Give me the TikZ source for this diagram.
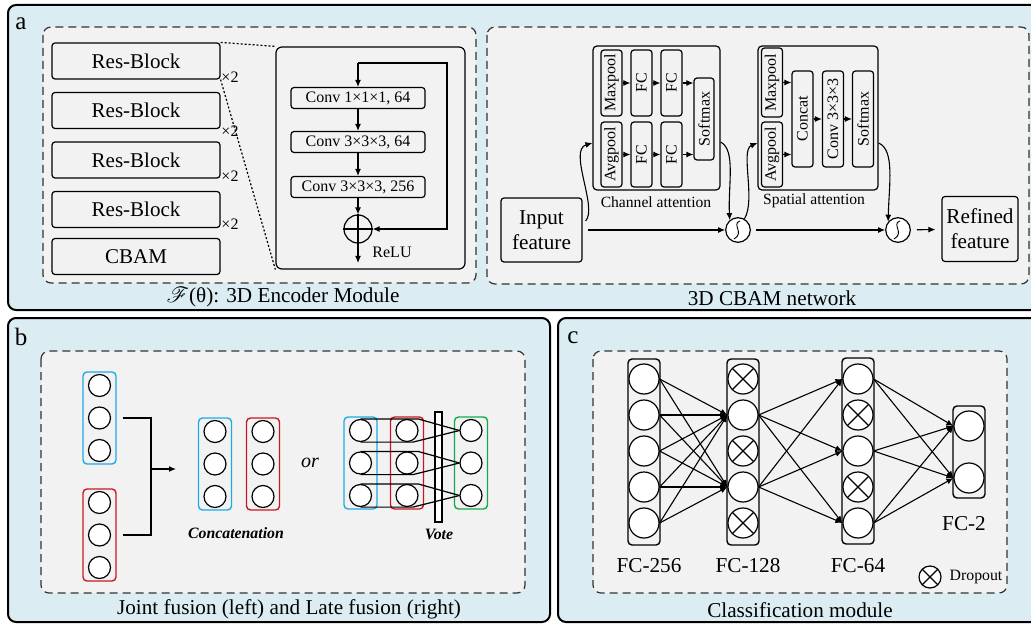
\documentclass[tikz,border=0pt]{standalone}
\usepackage{fontspec}
\setmainfont{Liberation Serif}
\usepackage{mathrsfs}
\usetikzlibrary{arrows.meta, positioning, calc}

\definecolor{panelblue}{RGB}{219,237,243}
\definecolor{boxgray}{RGB}{242,242,242}
\definecolor{netblue}{RGB}{30,170,230}
\definecolor{netred}{RGB}{200,25,35}
\definecolor{netgreen}{RGB}{20,170,75}

\tikzset{
  panel/.style={draw=black, line width=1pt, rounded corners=4pt, fill=panelblue},
  dashbox/.style={draw=black!80, line width=0.6pt, dash pattern=on 4pt off 2.5pt, rounded corners=4pt, fill=boxgray},
  blk/.style={draw, line width=0.6pt, rounded corners=1.5pt, inner sep=0pt},
  vtxt/.style={blk, minimum width=10.5pt, font=\fontsize{8}{9}\selectfont},
  colbox/.style={draw, line width=0.7pt, rounded corners=2pt, inner sep=0pt, minimum width=16.5pt, minimum height=46pt},
  neuron/.style={circle, draw, line width=0.6pt, fill=white, inner sep=0pt, minimum size=11pt},
  drop/.style={neuron, path picture={\draw[line width=0.6pt]
      (path picture bounding box.north west) -- (path picture bounding box.south east)
      (path picture bounding box.north east) -- (path picture bounding box.south west);}},
  arr/.style={-{Latex[length=3.5pt,width=3pt]}, line width=0.55pt},
  letter/.style={font=\fontsize{12.5}{14}\selectfont},
  small/.style={font=\fontsize{8}{9}\selectfont},
}

\begin{document}
\begin{tikzpicture}[x=0.5pt, y=-0.5pt, font=\fontsize{10.6}{12.5}\selectfont]
  \useasboundingbox (0,0) rectangle (1031,625);
  \clip (0,0) rectangle (1031,625);

  % panel a: encoder and CBAM
  \draw[panel] (8,5) rectangle (1045,310);
  \node[letter] (la) at (21,24) {a};
  \draw[dashbox] (43,27) rectangle (476,283);
  \draw[dashbox] (487,27) rectangle (1029,284);

  \foreach \i/\y in {1/61,2/110.5,3/160,4/209.5} {
    \node[blk, minimum width=84pt, minimum height=18pt, font=\fontsize{10.5}{12}\selectfont] (rb\i) at (136,\y) {Res-Block};
  }
  \node[blk, minimum width=84pt, minimum height=18pt, font=\fontsize{10.5}{12}\selectfont] (cbam) at (136,256.5) {CBAM};
  \foreach \i/\y in {1/77,2/131,3/176,4/224} {
    \node[small] (rep\i) at (230,\y) {×2};
  }

  \node[blk, rounded corners=3pt, minimum width=94.5pt, minimum height=111pt] (detail) at (370.5,158) {};
  \draw[line width=0.6pt, dash pattern=on 1pt off 1pt] (rb1.north east) -- (detail.north west);
  \draw[line width=0.6pt, dash pattern=on 1pt off 1pt] (rb1.south east) -- (detail.south west);

  \node[blk, minimum width=67pt, minimum height=10.5pt, small] (cv1) at (358,98) {Conv 1×1×1, 64};
  \node[blk, minimum width=67pt, minimum height=10.5pt, small] (cv2) at (358,142) {Conv 3×3×3, 64};
  \node[blk, minimum width=67pt, minimum height=10.5pt, small] (cv3) at (358,187) {Conv 3×3×3, 256};
  \node[neuron, fill=none, minimum size=14pt] (add) at (358,229) {};
  \draw[line width=0.6pt] (add.north) -- (add.south) (add.west) -- (add.east);
  \coordinate (skipin) at (358,63);
  \coordinate (skipr) at (447,63);
  \coordinate (resout) at (358,263);
  \draw[arr] (skipin) -- (cv1);
  \draw[arr] (skipin) -- (skipr) |- (add);
  \draw[arr] (cv1) -- (cv2);
  \draw[arr] (cv2) -- (cv3);
  \draw[arr] (cv3) -- (add);
  \draw[arr] (add) -- (resout);
  \node[small] (relu) at (392,252) {ReLU};
  \node (capa) at (283,297) {$\mathscr{F}$(θ): 3D Encoder Module};

  \node[blk, minimum width=40.5pt, minimum height=32pt, align=center] (input) at (541.5,230) {Input\\feature};
  \node[blk, minimum width=38pt, minimum height=32.5pt, align=center] (refined) at (980,229) {Refined\\feature};

  \node[blk, rounded corners=2pt, minimum width=63.5pt, minimum height=72pt] (chbox) at (656.5,118) {};
  \node[vtxt, minimum height=33pt] (cmax) at (611.5,83) {\rotatebox{90}{Maxpool}};
  \node[vtxt, minimum height=32.5pt] (cavg) at (611.5,154.5) {\rotatebox{90}{Avgpool}};
  \node[vtxt, minimum height=33pt] (cfc1) at (641.5,83) {\rotatebox{90}{FC}};
  \node[vtxt, minimum height=33pt] (cfc2) at (671.5,83) {\rotatebox{90}{FC}};
  \node[vtxt, minimum height=32.5pt] (cfc3) at (641.5,154.5) {\rotatebox{90}{FC}};
  \node[vtxt, minimum height=32.5pt] (cfc4) at (671.5,154.5) {\rotatebox{90}{FC}};
  \node[vtxt, minimum width=10pt, minimum height=41pt] (csoft) at (704,119) {\rotatebox{90}{Softmax}};
  \draw[arr] (cmax) -- (cfc1);
  \draw[arr] (cfc1) -- (cfc2);
  \draw[arr] (cfc2) -- (cfc2 -| csoft.west);
  \draw[arr] (cavg) -- (cfc3);
  \draw[arr] (cfc3) -- (cfc4);
  \draw[arr] (cfc4) -- (cfc4 -| csoft.west);
  \node[font=\fontsize{7.8}{9}\selectfont] (chlbl) at (656,202) {Channel attention};

  \node[blk, rounded corners=2pt, minimum width=60pt, minimum height=72pt] (spbox) at (818,118) {};
  \node[vtxt, minimum height=34.5pt] (smax) at (772,82.5) {\rotatebox{90}{Maxpool}};
  \node[vtxt, minimum height=32.5pt] (savg) at (772,154.5) {\rotatebox{90}{Avgpool}};
  \node[vtxt, minimum height=48pt] (scat) at (802.5,119) {\rotatebox{90}{Concat}};
  \node[vtxt, minimum height=48pt] (sconv) at (833,119) {\rotatebox{90}{Conv 3×3×3}};
  \node[vtxt, minimum height=48pt] (ssoft) at (863,119) {\rotatebox{90}{Softmax}};
  \draw[arr] (smax) -- (smax -| scat.west);
  \draw[arr] (savg) -- (savg -| scat.west);
  \draw[arr] (scat) -- (sconv);
  \draw[arr] (sconv) -- (ssoft);
  \node[font=\fontsize{7.8}{9}\selectfont] (splbl) at (814,201) {Spatial attention};

  \node[neuron, minimum size=12.3pt] (m1) at (738,230) {};
  \node[neuron, minimum size=12.3pt] (m2) at (898,230) {};
  \foreach \m in {m1,m2} {
    \draw[line width=0.45pt, shift={(\m)}] (2,-9) .. controls (-7,-6) and (7,3) .. (-4,9);
  }
  \draw[arr, shorten <=2.5pt] (input) -- (m1);
  \draw[arr, shorten <=2.5pt] (m1) -- (m2);
  \draw[arr, shorten <=3pt, shorten >=3pt] (m2) -- (refined);
  \draw[arr] ([shift={(3,-9)}]input.east) .. controls (598,208) and (568,150) .. ([shift={(0,25)}]chbox.west);
  \draw[arr] ([shift={(0,24)}]chbox.east) .. controls (736,150) and (728,185) .. (m1.130);
  \draw[arr] (m1.60) .. controls (756,200) and (740,150) .. ([shift={(0,25)}]spbox.west);
  \draw[arr] ([shift={(0,25)}]spbox.east) .. controls (895,150) and (889,185) .. (m2.140);
  \node (capcbam) at (772,298) {3D CBAM network};

  % panel b: fusion
  \draw[panel] (8,318) rectangle (550,622);
  \node[letter] (lb) at (21,337) {b};
  \draw[dashbox] (41,351) rectangle (525,593);
  \foreach \n/\x/\y/\c in {jb/99.5/418/netblue, jr/99.5/535/netred, cb/215/464/netblue, cr/263/464/netred,
                           fb/360.5/463/netblue, fr/407/463/netred, fg/471/463/netgreen} {
    \node[colbox, draw=\c] (\n) at (\x,\y) {};
    \node[neuron] (\n1) at (\x,\y-32.5) {};
    \node[neuron] (\n2) at (\x,\y) {};
    \node[neuron] (\n3) at (\x,\y+32.5) {};
  }
  \coordinate (jmid) at (151,469);
  \coordinate (jtip) at (176,469);
  \draw[line width=0.6pt] ([xshift=3pt]jb.east) -| (jmid);
  \draw[line width=0.6pt] ([xshift=3pt]jr.east) -| (jmid);
  \draw[arr] (jmid) -- (jtip);
  \node[font=\bfseries\itshape\fontsize{7.9}{9}\selectfont] (concatlbl) at (236,533) {Concatenation};
  \node[font=\itshape\fontsize{10}{12}\selectfont] (orlbl) at (310,463) {or};

  \node[draw, fill=white, line width=0.6pt, inner sep=0pt, minimum width=3.5pt, minimum height=55pt] (vote) at (438.5,467) {};
  \foreach \k in {1,2,3} {
    \draw[line width=0.6pt] (fb\k.north) -- ([xshift=5.5pt]fr\k.north) -- (fg\k.west);
    \draw[line width=0.6pt] (fb\k.south) -- ([xshift=3pt]fr\k.south) -- (fg\k.west);
  }
  \node[font=\bfseries\itshape\fontsize{7.9}{9}\selectfont] (votelbl) at (439,534) {Vote};
  \node (capb) at (289,609) {Joint fusion (left) and Late fusion (right)};

  % panel c: classifier
  \draw[panel] (558,318) rectangle (1045,622);
  \node[letter] (lc) at (573,338) {c};
  \draw[dashbox] (593,351) rectangle (1007,593);
  \node[colbox, minimum width=16pt, minimum height=93pt] (fa) at (644,452) {};
  \node[colbox, minimum width=16pt, minimum height=93pt] (fbx) at (743,452) {};
  \node[colbox, minimum width=16pt, minimum height=93pt] (fcx) at (858,451) {};
  \node[colbox, minimum width=16pt, minimum height=46pt] (fdx) at (969,452) {};
  \foreach \i/\y in {1/379,2/415,3/451,4/487,5/523} {
    \node[neuron, minimum size=15pt] (fa\i) at (644,\y) {};
  }
  \foreach \i/\y in {2/415,4/487} {
    \node[neuron, minimum size=15pt] (fb\i) at (743,\y) {};
    \node[drop, minimum size=15pt] (fc\i) at (858,\y) {};
  }
  \foreach \i/\y in {1/379,3/451,5/523} {
    \node[drop, minimum size=15pt] (fb\i) at (743,\y) {};
    \node[neuron, minimum size=15pt] (fc\i) at (858,\y) {};
  }
  \node[neuron, minimum size=15pt] (fd1) at (969,426) {};
  \node[neuron, minimum size=15pt] (fd2) at (969,478) {};
  \foreach \i in {1,...,5}
    \foreach \j in {2,4}
      \draw[arr] (fa\i.east) -- (fb\j.west);
  \foreach \i in {2,4}
    \foreach \j in {1,3,5}
      \draw[arr] (fb\i.east) -- (fc\j.west);
  \foreach \i in {1,3,5}
    \foreach \j in {1,2}
      \draw[arr] (fc\i.east) -- (fd\j.west);
  \node (fclbl1) at (649,566) {FC-256};
  \node (fclbl2) at (748,566) {FC-128};
  \node (fclbl3) at (858,566) {FC-64};
  \node (fclbl4) at (964,524) {FC-2};
  \node[drop, minimum size=11pt] (legdrop) at (930,577) {};
  \node[font=\fontsize{7.9}{9}\selectfont] (leglbl) at (976,577) {Dropout};
  \node (capc) at (800,610) {Classification module};
\end{tikzpicture}
\end{document}
